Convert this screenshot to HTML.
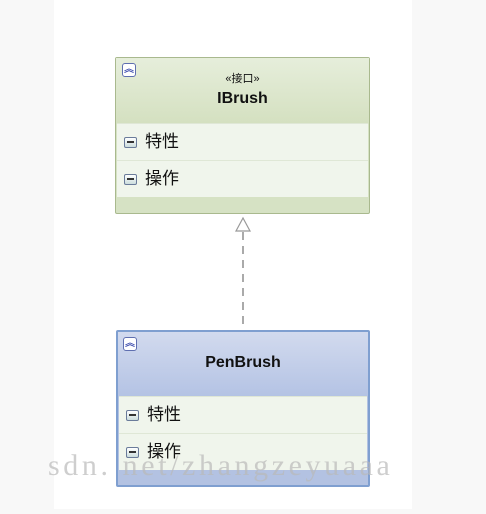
<!DOCTYPE html>
<html><head><meta charset="utf-8"><style>
body{margin:0;width:486px;height:514px;background:#f8f8f8;position:relative;overflow:hidden;font-family:"Liberation Sans","Noto Sans CJK SC",sans-serif}
.w{position:absolute;left:54px;top:0;width:358px;height:509px;background:#fff}
.box{position:absolute;border:1px solid;border-radius:2px;box-sizing:border-box}
.b1{left:115px;top:57px;width:255px;height:157px;border-color:#a9b98e;background:#d6e2c4}
.b2{left:116px;top:330px;width:254px;height:157px;border-color:#7f9fd0;background:#b3c2e2;border-width:2px}
.hd1{position:absolute;left:0;right:0;top:0;height:66px;background:linear-gradient(#e6eedb,#d4e0c0)}
.hd2{position:absolute;left:0;right:0;top:0;height:64px;background:linear-gradient(#d2daee,#b4c3e4)}
.row{position:absolute;left:1px;right:1px;height:36px;background:#f0f5ec;border-top:1px solid #dfe7d6;font-size:17px;line-height:36px;color:#111}
.row span.m{display:inline-block;width:11px;height:9px;border:1px solid #6a7b9a;border-radius:2px;background:linear-gradient(#fff,#cdd);margin:0 8px 0 7px;vertical-align:-1px;position:relative}
.row span.m:after{content:"";position:absolute;left:2px;right:2px;top:3px;height:2px;background:#333}
.ic{position:absolute;left:6px;top:5px;width:12px;height:12px;border:1px solid #5f6fb0;border-radius:3px;background:#fff;font-size:10px;line-height:11px;text-align:center;color:#3344aa;font-weight:bold}
.t{position:absolute;left:0;right:0;text-align:center;font-weight:bold;color:#111}
</style></head><body>
<div class="w"></div>
<div class="box b1">
<div class="hd1"></div>
<div class="ic">︽</div>
<div class="t" style="top:12px;font-size:11px;font-weight:normal">«接口»</div>
<div class="t" style="top:32px;font-size:16px">IBrush</div>
<div class="row" style="top:65px"><span class="m"></span>特性</div>
<div class="row" style="top:102px"><span class="m"></span>操作</div>
</div>
<svg style="position:absolute;left:0;top:0" width="486" height="514">
<polygon points="243,218 236,231 250,231" fill="#fff" stroke="#999" stroke-width="1.2"/>
<line x1="243" y1="232" x2="243" y2="330" stroke="#aaa" stroke-width="2" stroke-dasharray="8,6"/>
</svg>
<div class="box b2">
<div class="hd2"></div>
<div class="ic" style="left:5px;top:5px">︽</div>
<div class="t" style="top:22px;font-size:16px">PenBrush</div>
<div class="row" style="top:64px"><span class="m"></span>特性</div>
<div class="row" style="top:101px"><span class="m"></span>操作</div>
</div>
<div style="position:absolute;left:48px;top:449px;font-family:'Liberation Serif',serif;font-size:30px;letter-spacing:3.6px;color:rgba(185,185,185,0.7);white-space:nowrap">sdn. net/zhangzeyuaaa</div>
</body></html>
